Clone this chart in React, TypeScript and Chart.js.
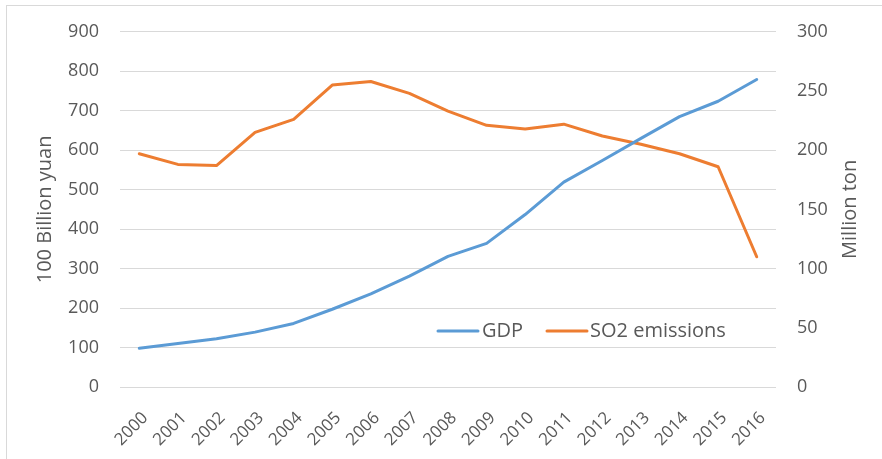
import React, { useEffect, useRef } from "react";
import { Chart, registerables } from "chart.js";

Chart.register(...registerables);

const years = ["2000","2001","2002","2003","2004","2005","2006","2007","2008","2009","2010","2011","2012","2013","2014","2015","2016"];
const gdp = [98, 110, 122, 139, 161, 197, 236, 281, 331, 364, 437, 519, 574, 630, 685, 724, 779];
const so2 = [197, 188, 187, 215, 226, 255, 258, 248, 233, 221, 218, 222, 212, 205, 197, 186, 110];
const gdpLabel = "GDP";
const so2Label = "SO2 emissions";
const leftTitle = "100 Billion yuan";
const rightTitle = "Million ton";

const FONT = "'Open Sans', sans-serif";
const TEXT = "#595959";
const BLUE = "#5b9bd5";
const ORANGE = "#ed7d31";

const decorPlugin = {
  id: "decor",
  afterDatasetsDraw(chart: any) {
    const ctx = chart.ctx;
    const ca = chart.chartArea;
    const cy = (ca.top + ca.bottom) / 2;
    ctx.save();
    ctx.fillStyle = TEXT;
    ctx.font = `20px ${FONT}`;
    ctx.textAlign = "center";
    ctx.textBaseline = "middle";
    // axis titles
    ctx.save();
    ctx.translate(45, cy);
    ctx.rotate(-Math.PI / 2);
    ctx.fillText(leftTitle, 0, 0);
    ctx.restore();
    ctx.save();
    ctx.translate(850, cy);
    ctx.rotate(-Math.PI / 2);
    ctx.fillText(rightTitle, 0, 0);
    ctx.restore();
    // legend
    const ly = 331;
    const items = [
      { label: gdpLabel, color: BLUE, x0: 438, x1: 478, tx: 482 },
      { label: so2Label, color: ORANGE, x0: 547, x1: 587, tx: 590 },
    ];
    ctx.textAlign = "left";
    for (const it of items) {
      ctx.strokeStyle = it.color;
      ctx.lineWidth = 3;
      ctx.lineCap = "round";
      ctx.beginPath();
      ctx.moveTo(it.x0, ly);
      ctx.lineTo(it.x1, ly);
      ctx.stroke();
      ctx.fillStyle = TEXT;
      ctx.fillText(it.label, it.tx, ly);
    }
    ctx.restore();
  },
};

export default function App() {
  const ref = useRef<HTMLCanvasElement>(null);
  useEffect(() => {
    const canvas = ref.current;
    if (!canvas) return;
    const chart = new Chart(canvas, {
      type: "line",
      data: {
        labels: years,
        datasets: [
          {
            label: gdpLabel,
            data: gdp,
            yAxisID: "y",
            borderColor: BLUE,
            backgroundColor: BLUE,
            borderWidth: 3,
            pointRadius: 0,
            tension: 0,
            borderCapStyle: "round",
            borderJoinStyle: "round",
          },
          {
            label: so2Label,
            data: so2,
            yAxisID: "y1",
            borderColor: ORANGE,
            backgroundColor: ORANGE,
            borderWidth: 3,
            pointRadius: 0,
            tension: 0,
            borderCapStyle: "round",
            borderJoinStyle: "round",
          },
        ],
      },
      options: {
        animation: false,
        responsive: false,
        devicePixelRatio: 1,
        layout: { padding: { top: 28, left: 0, right: 0, bottom: 0 } },
        plugins: {
          legend: { display: false },
          tooltip: { enabled: false },
          title: { display: false },
        },
        scales: {
          x: {
            type: "category",
            offset: true,
            grid: { display: false },
            border: { display: false },
            ticks: {
              minRotation: 45,
              maxRotation: 45,
              autoSkip: false,
              padding: 13,
              labelOffset: 6,
              color: TEXT,
              font: { family: FONT, size: 17 },
            },
            afterFit: (s: any) => { s.height = 72; },
          },
          y: {
            position: "left",
            min: 0,
            max: 900,
            grid: { color: "#d9d9d9", lineWidth: 1, drawTicks: false },
            border: { display: false },
            ticks: {
              stepSize: 100,
              padding: 21,
              color: TEXT,
              font: { family: FONT, size: 18 },
            },
            afterFit: (s: any) => { s.width = 120; },
          },
          y1: {
            position: "right",
            min: 0,
            max: 300,
            grid: { display: false, drawTicks: false },
            border: { display: false },
            ticks: {
              stepSize: 50,
              padding: 21,
              color: TEXT,
              font: { family: FONT, size: 18 },
            },
            afterFit: (s: any) => { s.width = 106; },
          },
        },
      },
      plugins: [decorPlugin],
    } as any);
    return () => chart.destroy();
  }, []);

  return (
    <div style={{ position: "absolute", left: 0, top: 0, width: 882, height: 459, background: "#fff", overflow: "hidden" }}>
      <canvas ref={ref} width={882} height={459} style={{ display: "block", width: 882, height: 459 }} />
      <div
        style={{
          position: "absolute",
          left: 6,
          top: 5,
          width: 880,
          height: 460,
          borderTop: "1px solid #d9d9d9",
          borderLeft: "1px solid #d9d9d9",
          pointerEvents: "none",
        }}
      />
    </div>
  );
}
